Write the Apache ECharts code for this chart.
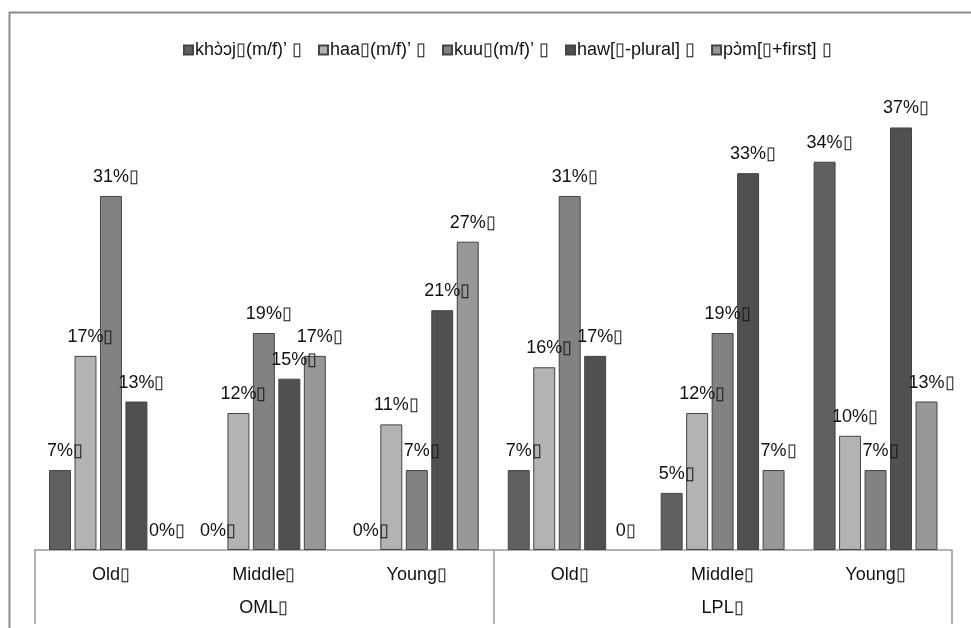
<!DOCTYPE html>
<html>
<head>
<meta charset="utf-8">
<script src="https://cdn.jsdelivr.net/npm/echarts@6/dist/echarts.min.js"></script>
<style>
  html, body { margin: 0; padding: 0; background: #ffffff; }
  #chart { width: 971px; height: 628px; }
</style>
</head>
<body>
<div id="chart"></div>
<script>
// Share (%) of each pronoun form by speaker age group, OML vs LPL
const TOFU = '\u25AF';
const ageGroups = ['Old', 'Middle', 'Young', 'Old', 'Middle', 'Young'];
const varieties = ['OML', 'LPL'];

const seriesNames = [
  'khɔ̀ɔj' + TOFU + '(m/f)\u2019 ' + TOFU,
  'haa' + TOFU + '(m/f)\u2019 ' + TOFU,
  'kuu' + TOFU + '(m/f)\u2019 ' + TOFU,
  'haw[' + TOFU + '-plural] ' + TOFU,
  'pɔ̀m[' + TOFU + '+first] ' + TOFU
];

const khoojValues = [7, 0, 0, 7, 5, 34];
const haaValues   = [17, 12, 11, 16, 12, 10];
const kuuValues   = [31, 19, 7, 31, 19, 7];
const hawValues   = [13, 15, 21, 17, 33, 37];
const pomValues   = [0, 17, 27, 0, 7, 13];

const seriesColors = ['#606060', '#b3b3b3', '#828282', '#505050', '#989898'];

// cells whose label is written without the percent sign: [seriesIndex, dataIndex]
const plainLabelCells = [[4, 3]];

const allValues = [khoojValues, haaValues, kuuValues, hawValues, pomValues];

const FONT = '"Liberation Sans", Arial, sans-serif';

const chart = echarts.init(document.getElementById('chart'), null, { renderer: 'canvas' });

const series = allValues.map((vals, si) => ({
  name: seriesNames[si],
  type: 'bar',
  xAxisIndex: 0,
  // zero-height bars get no outline so nothing is drawn on the baseline
  data: vals.map(v => (v === 0 ? { value: v, itemStyle: { borderWidth: 0 } } : v)),
  barGap: '16%',
  barCategoryGap: '19%',
  itemStyle: { color: seriesColors[si], borderColor: '#444444', borderWidth: 1 },
  label: {
    show: true,
    position: 'top',
    distance: 10,
    offset: [5, 0],
    color: '#111111',
    fontFamily: FONT,
    fontSize: 18,
    formatter: p => {
      const plain = plainLabelCells.some(c => c[0] === si && c[1] === p.dataIndex);
      return p.value + (plain ? '' : '%') + TOFU;
    }
  },
  emphasis: { disabled: true },
  animation: false
}));

chart.setOption({
  backgroundColor: '#ffffff',
  animation: false,
  graphic: [{
    type: 'rect',
    shape: { x: 9.5, y: 12.5, width: 1000, height: 700 },
    style: { fill: 'none', stroke: '#8c8c8c', lineWidth: 2 },
    silent: true,
    z: -10
  }],
  legend: {
    top: 36,
    left: 178,
    itemWidth: 9,
    itemHeight: 9,
    itemGap: 16,
    icon: 'rect',
    textStyle: { fontFamily: FONT, fontSize: 18, color: '#111111', padding: [0, 0, 0, -3] },
    data: seriesNames
  },
  grid: { left: 34.5, right: 19, top: 93.2, bottom: 78, containLabel: false },
  xAxis: [
    {
      type: 'category',
      data: ageGroups,
      position: 'bottom',
      axisLine: { show: true, lineStyle: { color: '#9a9a9a', width: 1.5 } },
      axisTick: { show: false },
      axisLabel: { margin: 16, fontFamily: FONT, fontSize: 18, color: '#111111',
                   formatter: v => v + TOFU }
    },
    {
      type: 'category',
      data: varieties,
      position: 'bottom',
      axisLine: { show: false },
      axisTick: { show: true, length: 74, interval: 0, lineStyle: { color: '#9a9a9a', width: 1.5 } },
      axisLabel: { margin: 49, fontFamily: FONT, fontSize: 18, color: '#111111',
                   formatter: v => v + TOFU }
    }
  ],
  yAxis: {
    type: 'value',
    min: 0,
    max: 40,
    show: false,
    splitLine: { show: false }
  },
  series: series
});
</script>
</body>
</html>
